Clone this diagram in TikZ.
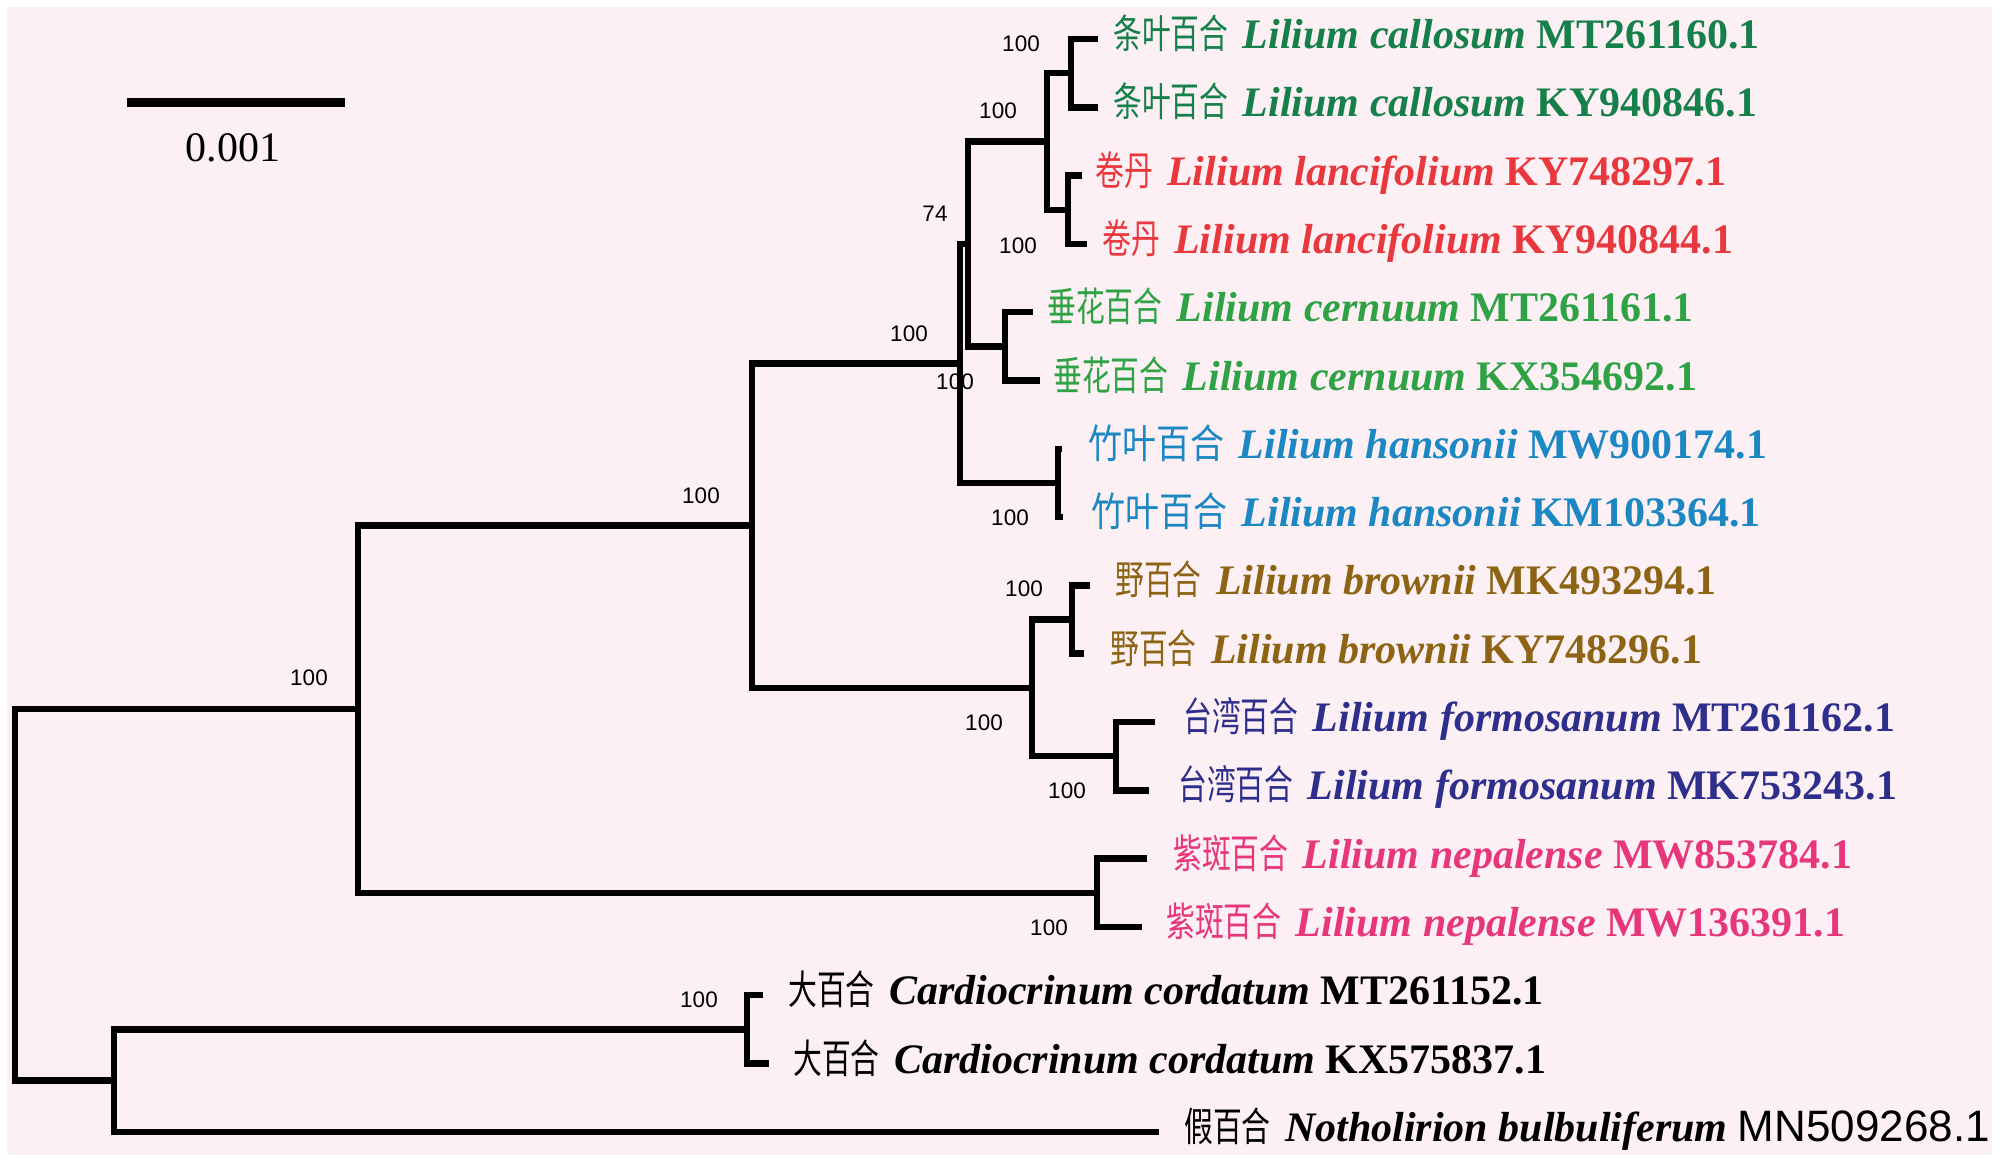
\documentclass[tikz,border=0pt]{standalone}
\usepackage{fontspec}
\setmainfont{Liberation Serif}
\setsansfont{Liberation Sans}
\newfontfamily\cjk[FakeStretch=0.72]{Noto Sans CJK SC}
\newfontfamily\cjkwide[FakeStretch=0.85]{Noto Sans CJK SC}
\definecolor{bg}{HTML}{FCF0F4}
\definecolor{cCal}{HTML}{16804A}
\definecolor{cLan}{HTML}{E8383D}
\definecolor{cCer}{HTML}{2EA244}
\definecolor{cHan}{HTML}{1B87C3}
\definecolor{cBro}{HTML}{8C6414}
\definecolor{cFor}{HTML}{2E2F8C}
\definecolor{cNep}{HTML}{E6377A}
\newcommand\tiplab[3]{{\cjk\fontsize{40}{50}\selectfont #1}\ \hspace{4pt}{\bfseries\itshape #2}\ #3}
\newcommand\tiplabw[3]{{\cjkwide\fontsize{40}{50}\selectfont #1}\ \hspace{4pt}{\bfseries\itshape #2}\ #3}
\begin{document}
\begin{tikzpicture}[x=1pt,y=-1pt,
  br/.style={line width=6.5pt,line join=miter,black},
  tiplabel/.style={anchor=base west,inner sep=0pt,font=\fontsize{42}{50}\selectfont},
  boot/.style={inner sep=0pt,anchor=center,font=\sffamily\fontsize{22.5}{26}\selectfont}]
\useasboundingbox (0,0) rectangle (2000,1161);
\fill[white] (0,0) rectangle (2000,1161);
\fill[bg] (7,7) rectangle (1992,1155);
% tip coordinates
\coordinate (t1) at (1098,39);
\coordinate (t2) at (1098,107.3);
\coordinate (t3) at (1082,175.6);
\coordinate (t4) at (1087,243.9);
\coordinate (t5) at (1033,312.2);
\coordinate (t6) at (1040,380.5);
\coordinate (t7) at (1062,448.8);
\coordinate (t8) at (1063,517.1);
\coordinate (t9) at (1090,585.4);
\coordinate (t10) at (1084,653.7);
\coordinate (t11) at (1155,722);
\coordinate (t12) at (1149,790.3);
\coordinate (t13) at (1147,858.6);
\coordinate (t14) at (1142,926.9);
\coordinate (t15) at (763,995.2);
\coordinate (t16) at (769,1063.5);
\coordinate (t17) at (1159,1131.8);
% internal nodes
\coordinate (nCal) at (1071,73.2);
\coordinate (nLan) at (1068,209.8);
\coordinate (nF) at (1047,141.5);
\coordinate (nCer) at (1005,346.4);
\coordinate (nG) at (968,244);
\coordinate (nHan) at (1058,483);
\coordinate (nE) at (960,363.5);
\coordinate (nBro) at (1072,619.6);
\coordinate (nFor) at (1116,756.2);
\coordinate (nD) at (1032,687.9);
\coordinate (nB) at (752,525.6);
\coordinate (nNep) at (1097,892.8);
\coordinate (nA) at (358,709.2);
\coordinate (nCar) at (747,1029.4);
\coordinate (nC) at (114,1080.6);
\coordinate (nR) at (15,894.9);
% branches
\draw[br] (t1) -| (nCal) |- (t2);
\draw[br] (t3) -| (nLan) |- (t4);
\draw[br] (nCal) -| (nF) |- (nLan);
\draw[br] (t5) -| (nCer) |- (t6);
\draw[br] (nF) -| (nG) |- (nCer);
\draw[br] (t7) -| (nHan) |- (t8);
\draw[br] (nG) -| (nE) |- (nHan);
\draw[br] (t9) -| (nBro) |- (t10);
\draw[br] (t11) -| (nFor) |- (t12);
\draw[br] (nBro) -| (nD) |- (nFor);
\draw[br] (nE) -| (nB) |- (nD);
\draw[br] (t13) -| (nNep) |- (t14);
\draw[br] (nB) -| (nA) |- (nNep);
\draw[br] (t15) -| (nCar) |- (t16);
\draw[br] (nCar) -| (nC) |- (t17);
\draw[br] (nA) -| (nR) |- (nC);
% tip labels
\node[tiplabel,text=cCal] (l1) at (1113,48.5) {\tiplab{条叶百合}{Lilium callosum}{\bfseries MT261160.1}};
\node[tiplabel,text=cCal] (l2) at (1113,116.8) {\tiplab{条叶百合}{Lilium callosum}{\bfseries KY940846.1}};
\node[tiplabel,text=cLan] (l3) at (1095,185.1) {\tiplab{卷丹}{Lilium lancifolium}{\bfseries KY748297.1}};
\node[tiplabel,text=cLan] (l4) at (1102,253.4) {\tiplab{卷丹}{Lilium lancifolium}{\bfseries KY940844.1}};
\node[tiplabel,text=cCer] (l5) at (1047,321.7) {\tiplab{垂花百合}{Lilium cernuum}{\bfseries MT261161.1}};
\node[tiplabel,text=cCer] (l6) at (1053,390) {\tiplab{垂花百合}{Lilium cernuum}{\bfseries KX354692.1}};
\node[tiplabel,text=cHan] (l7) at (1088,458.3) {\tiplabw{竹叶百合}{Lilium hansonii}{\bfseries MW900174.1}};
\node[tiplabel,text=cHan] (l8) at (1091,526.6) {\tiplabw{竹叶百合}{Lilium hansonii}{\bfseries KM103364.1}};
\node[tiplabel,text=cBro] (l9) at (1115,594.9) {\tiplab{野百合}{Lilium brownii}{\bfseries MK493294.1}};
\node[tiplabel,text=cBro] (l10) at (1110,663.2) {\tiplab{野百合}{Lilium brownii}{\bfseries KY748296.1}};
\node[tiplabel,text=cFor] (l11) at (1183,731.5) {\tiplab{台湾百合}{Lilium formosanum}{\bfseries MT261162.1}};
\node[tiplabel,text=cFor] (l12) at (1178,799.8) {\tiplab{台湾百合}{Lilium formosanum}{\bfseries MK753243.1}};
\node[tiplabel,text=cNep] (l13) at (1173,868.1) {\tiplab{紫斑百合}{Lilium nepalense}{\bfseries MW853784.1}};
\node[tiplabel,text=cNep] (l14) at (1166,936.4) {\tiplab{紫斑百合}{Lilium nepalense}{\bfseries MW136391.1}};
\node[tiplabel] (l15) at (788,1004.7) {\tiplab{大百合}{Cardiocrinum cordatum}{\bfseries MT261152.1}};
\node[tiplabel] (l16) at (793,1073) {\tiplab{大百合}{Cardiocrinum cordatum}{\bfseries KX575837.1}};
\node[tiplabel] (l17) at (1184,1141.3) {\tiplab{假百合}{Notholirion bulbuliferum}{\sffamily\fontsize{44}{50}\selectfont MN509268.1}};
% bootstrap values
\node[boot] (b1) at (1021,43.5) {100};
\node[boot] (b2) at (998,111) {100};
\node[boot] (b3) at (935,214) {74};
\node[boot] (b4) at (1018,246) {100};
\node[boot] (b5) at (909,333.5) {100};
\node[boot] (b6) at (955,382) {100};
\node[boot] (b7) at (1010,518) {100};
\node[boot] (b8) at (1024,589) {100};
\node[boot] (b9) at (984,723) {100};
\node[boot] (b10) at (1067,791) {100};
\node[boot] (b11) at (1049,928) {100};
\node[boot] (b12) at (699,1000) {100};
\node[boot] (b13) at (701,496) {100};
\node[boot] (b14) at (309,678) {100};
% scale bar
\coordinate (sb1) at (127,103);
\coordinate (sb2) at (345,103);
\draw[line width=9pt] (sb1) -- (sb2);
\node[inner sep=0pt,font=\fontsize{42}{50}\selectfont] (sbl) at (233,148) {0.001};
\end{tikzpicture}
\end{document}
